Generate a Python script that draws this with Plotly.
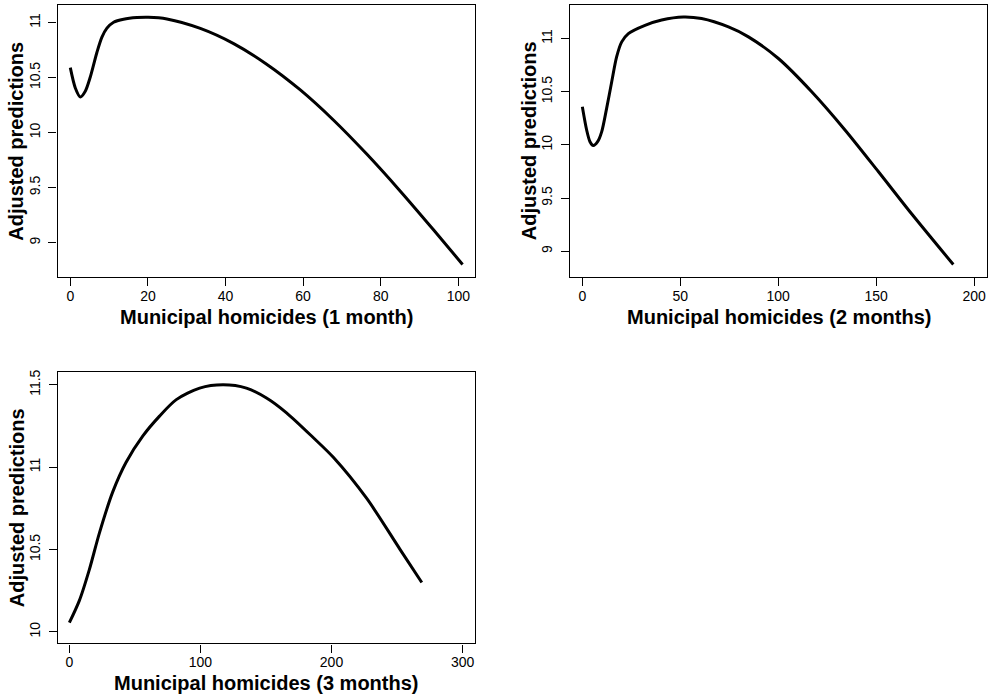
import plotly.graph_objects as go

# Panel 1: 1 month
x1 = [0, 1.29, 2.58, 3.86, 5.15, 6.87, 8.15, 9.44, 11.16, 13.73, 17.17, 20.09, 24.9, 33.5, 42.1, 50.6, 59.2, 67.8, 76.4, 85.0, 93.6, 101.1]
y1 = [10.59, 10.406, 10.324, 10.376, 10.505, 10.73, 10.867, 10.949, 11.003, 11.03, 11.045, 11.048, 11.033, 10.947, 10.809, 10.622, 10.390, 10.115, 9.805, 9.470, 9.117, 8.802]

# Panel 2: 2 months
x2 = [0, 2.2, 3.9, 5.6, 7.8, 9.9, 12.4, 15.0, 17.5, 20.1, 23.5, 32.0, 40.5, 51.6, 60.9, 74.6, 84.8, 100.1, 117.1, 134.1, 151.1, 168.2, 189.4]
y2 = [10.359, 10.14, 10.03, 9.994, 10.03, 10.125, 10.344, 10.594, 10.828, 10.969, 11.047, 11.125, 11.175, 11.203, 11.188, 11.109, 11.016, 10.8125, 10.5, 10.141, 9.75, 9.35, 8.875]

# Panel 3: 3 months
x3 = [0, 7.6, 15.3, 22.9, 33.1, 43.3, 56.1, 68.8, 81.6, 99.4, 117.3, 135.1, 150.4, 165.7, 186.0, 201.4, 226.9, 252.4, 268.9]
y3 = [10.056, 10.19, 10.38, 10.60, 10.85, 11.03, 11.19, 11.31, 11.41, 11.48, 11.50, 11.48, 11.42, 11.33, 11.18, 11.06, 10.81, 10.50, 10.30]

xticks1 = [0, 20, 40, 60, 80, 100]
xticks2 = [0, 50, 100, 150, 200]
xticks3 = [0, 100, 200, 300]
yticks12 = [9, 9.5, 10, 10.5, 11]
yticks3 = [10, 10.5, 11, 11.5]

xtitles = ["Municipal homicides (1 month)", "Municipal homicides (2 months)", "Municipal homicides (3 months)"]
ytitle = "Adjusted predictions"

W, H = 990, 698
FONT = "Liberation Sans, Arial, Helvetica, sans-serif"

fig = go.Figure()
for i, (xs, ys) in enumerate([(x1, y1), (x2, y2), (x3, y3)]):
    suf = "" if i == 0 else str(i + 1)
    fig.add_trace(go.Scatter(x=xs, y=ys, mode="lines",
                             line=dict(color="black", width=3, shape="spline", smoothing=0.8),
                             xaxis="x" + suf, yaxis="y" + suf, showlegend=False, hoverinfo="skip"))

# pixel boxes (left, right, top, bottom)
boxes = [(57.5, 475, 3.3, 276), (570, 987, 3.3, 276), (57.7, 475, 370.7, 643.3)]
xranges = [[-3.3, 104.3], [-6.3, 206.6], [-8.9, 309.5]]
yranges = [[8.686, 11.157], [8.756, 11.313], [9.93, 11.58]]
xtv = [xticks1, xticks2, xticks3]
ytv = [yticks12, yticks12, yticks3]

def fmt(v):
    return str(int(v)) if float(v).is_integer() else str(v)

layout = dict(width=W, height=H, margin=dict(l=0, r=0, t=0, b=0),
              paper_bgcolor="white", plot_bgcolor="white",
              font=dict(family=FONT, color="black", size=14))
annotations = []
for i in range(3):
    suf = "" if i == 0 else str(i + 1)
    l, r, t, b = boxes[i]
    common = dict(showline=True, linecolor="black", linewidth=1.3, mirror=True,
                  ticks="outside", ticklen=8, tickwidth=1, tickcolor="black",
                  showgrid=False, zeroline=False, tickfont=dict(family=FONT, size=14, color="black"))
    layout["xaxis" + suf] = dict(domain=[l / W, r / W], range=xranges[i], anchor="y" + suf,
                                 tickvals=xtv[i], ticktext=[fmt(v) for v in xtv[i]],
                                 ticklabelstandoff=-2, **common)
    layout["yaxis" + suf] = dict(domain=[1 - b / H, 1 - t / H], range=yranges[i], anchor="x" + suf,
                                 tickvals=ytv[i], ticktext=[fmt(v) for v in ytv[i]],
                                 tickangle=-90, ticklabelstandoff=3, **common)
    annotations.append(dict(text=xtitles[i], xref="paper", yref="paper",
                            x=(l + r) / 2 / W, y=1 - (b + 40) / H, xanchor="center", yanchor="middle",
                            showarrow=False, font=dict(family=FONT, size=20, color="black", weight="bold")))
    annotations.append(dict(text=ytitle, xref="paper", yref="paper", textangle=-90,
                            x=(l - 41) / W, y=1 - (t + b) / 2 / H, xanchor="center", yanchor="middle",
                            showarrow=False, font=dict(family=FONT, size=20, color="black", weight="bold")))
layout["annotations"] = annotations
fig.update_layout(**layout)
fig.write_html("out.html")
